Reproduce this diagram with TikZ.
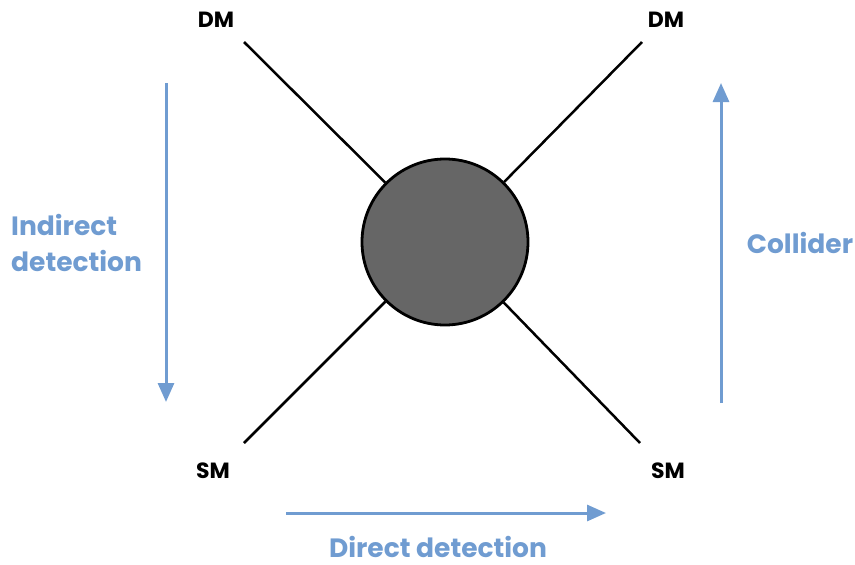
\documentclass[tikz,border=0pt]{standalone}
\usepackage{fontspec}
\setmainfont{Poppins}
\usetikzlibrary{arrows.meta}
\definecolor{lblue}{RGB}{112,156,209}
\definecolor{blobgray}{RGB}{102,102,102}
\tikzset{
  leg/.style={line width=2.5pt, black},
  particle/.style={font=\fontsize{22}{26}\selectfont\bfseries, text=black, inner sep=0pt, anchor=base},
  process/.style={font=\fontsize{26.5}{36}\selectfont\bfseries, text=lblue, inner sep=0pt, anchor=base},
  flow/.style={line width=3pt, lblue, -{Triangle[length=19pt,width=16pt]}}
}
\begin{document}
\begin{tikzpicture}[x=1pt,y=-1pt]
\useasboundingbox (0,0) rectangle (855,565);
\node[circle, draw=black, line width=2.8pt, fill=blobgray, minimum size=166pt, inner sep=0pt] (blob) at (445,242) {};
\coordinate (tl) at (244,42);
\coordinate (tr) at (642,42);
\coordinate (bl) at (244,443);
\coordinate (br) at (640,443);
\draw[leg] (tl) -- (blob);
\draw[leg] (tr) -- (blob);
\draw[leg] (bl) -- (blob);
\draw[leg] (br) -- (blob);
\node[particle] (dml) at (216,27) {DM};
\node[particle] (dmr) at (666,27) {DM};
\node[particle] (sml) at (213,478) {SM};
\node[particle] (smr) at (668,478) {SM};
\coordinate (ia) at (166,83);
\coordinate (ib) at (166,402);
\coordinate (ca) at (721,403);
\coordinate (cb) at (721,83);
\coordinate (da) at (286,513);
\coordinate (db) at (606,513);
\draw[flow] (ia) -- (ib);
\draw[flow] (ca) -- (cb);
\draw[flow] (da) -- (db);
\node[process, align=left, anchor=base west] (ind) at (11,271) {Indirect\\detection};
\node[process] (col) at (800,253) {Collider};
\node[process] (dir) at (438,557) {Direct detection};
\end{tikzpicture}
\end{document}
